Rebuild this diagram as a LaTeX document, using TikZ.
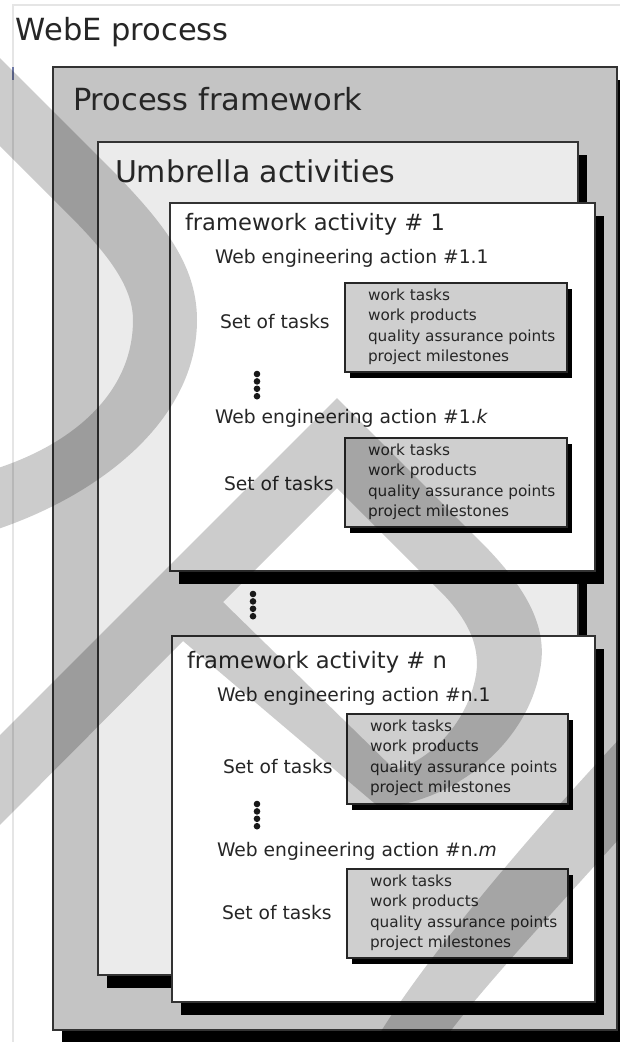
\documentclass[tikz,border=0pt]{standalone}
\usepackage{fontspec}
\setmainfont{DejaVu Sans}
\usetikzlibrary{shadows}

% four work items listed inside a task box
\newcommand{\taskitems}[3]{%
  \foreach \txt [count=\i from 0] in {work tasks, work products, quality assurance points, project milestones}{
    \node[item] (#1-\i) at (#2, #3 + \i*20.5) {\txt};
  }}
% vertical ellipsis made of stacked beads
\newcommand{\beads}[2]{%
  \foreach \k in {0,...,3}{\fill[black!90] (#1, #2 + \k*7.4) circle (3.3pt);}}

\begin{document}
\begin{tikzpicture}[x=1pt,y=-1pt,
  every node/.style={inner sep=0pt, outer sep=0pt},
  lbl/.style={anchor=base west, text=black!85},
  huge/.style={lbl, font=\fontsize{30.5}{36}\selectfont},
  fwtitle/.style={lbl, font=\fontsize{22.6}{27}\selectfont},
  action/.style={lbl, font=\fontsize{18.7}{22}\selectfont},
  item/.style={lbl, font=\fontsize{15.3}{18}\selectfont},
  bigbox/.style={draw=black!80, line width=1.6pt, anchor=north west,
    drop shadow={shadow xshift=9pt, shadow yshift=-13pt, fill=black, opacity=1}},
  taskbox/.style={draw=black!85, line width=1.4pt, fill=black!19, anchor=north west,
    minimum width=222pt, minimum height=89pt,
    drop shadow={shadow xshift=5pt, shadow yshift=-6pt, fill=black, opacity=1}},
  band/.style={fill=black, fill opacity=0.2}
]
\useasboundingbox (0,0) rectangle (620,1042);
\fill[white] (0,0) rectangle (620,1042);

% faint outer frame and small mark
\draw[black!10, line width=1.5pt] (13,1042) -- (13,5) -- (620,5);
\draw[color={rgb,255:red,110;green,120;blue,165}, line width=2pt] (13,67) -- (13,80);

\node[huge] (title) at (16,40) {WebE process};

% nested boxes
\node[bigbox, fill=black!23, minimum width=564pt, minimum height=963pt] (pf) at (53,67) {};
\node[huge] (pftext) at (73,110) {Process framework};

\node[bigbox, fill=black!8, minimum width=480pt, minimum height=833pt] (umb) at (98,142) {};
\node[huge, font=\fontsize{30}{36}\selectfont] (umbtext) at (115,182) {Umbrella activities};

% framework activity #1
\node[bigbox, fill=white, minimum width=425pt, minimum height=368pt] (fa1) at (170,203) {};
\node[fwtitle] (fa1text) at (185,230) {framework activity \# 1};
\node[action] (a11) at (215,263) {Web engineering action \#1.1};
\node[action] (s11) at (220,328) {Set of tasks};
\node[taskbox] (tb1) at (345,283) {};
\taskitems{w1}{368}{300}
\beads{257}{374}
\node[action] (a1k) at (215,423) {Web engineering action \#1.\textit{k}};
\node[action] (s1k) at (224,490) {Set of tasks};
\node[taskbox] (tb2) at (345,438) {};
\taskitems{w2}{368}{455}

\beads{253}{594}

% framework activity #n
\node[bigbox, fill=white, minimum width=423pt, minimum height=366pt] (fan) at (172,636) {};
\node[fwtitle] (fantext) at (187,668) {framework activity \# n};
\node[action] (an1) at (217,701) {Web engineering action \#n.1};
\node[action] (sn1) at (223,773) {Set of tasks};
\node[taskbox, minimum width=221pt, minimum height=90pt] (tb3) at (347,714) {};
\taskitems{w3}{370}{731}
\beads{257}{804}
\node[action] (anm) at (217,856) {Web engineering action \#n.\textit{m}};
\node[action] (snm) at (222,919) {Set of tasks};
\node[taskbox, minimum width=221pt, minimum height=89pt] (tb4) at (347,869) {};
\taskitems{w4}{370}{886}

% translucent bands laid over the whole drawing
\fill[band] (-5,53) -- (100,158) .. controls (160,218) and (197,262) .. (197,320)
  .. controls (197,420) and (100,495) .. (-5,530) -- (-5,469)
  .. controls (70,445) and (133,395) .. (133,320)
  .. controls (133,285) and (105,251) .. (67,213) -- (-5,141) -- cycle;
\fill[band, even odd rule] (-10,745) -- (337,398) -- (480,541)
  .. controls (530,591) and (548,630) .. (540,670)
  .. controls (528,740) and (460,800) .. (380,808) -- (183,641) -- (-10,835) -- cycle
  (223,602) -- (337,488) -- (440,591) .. controls (470,621) and (482,650) .. (475,680)
  .. controls (465,725) and (430,760) .. (395,770) -- cycle;
\fill[band] (645,712) .. controls (560,800) and (420,960) .. (370,1050) -- (437,1050)
  .. controls (470,1000) and (560,905) .. (645,810) -- cycle;
\end{tikzpicture}
\end{document}
